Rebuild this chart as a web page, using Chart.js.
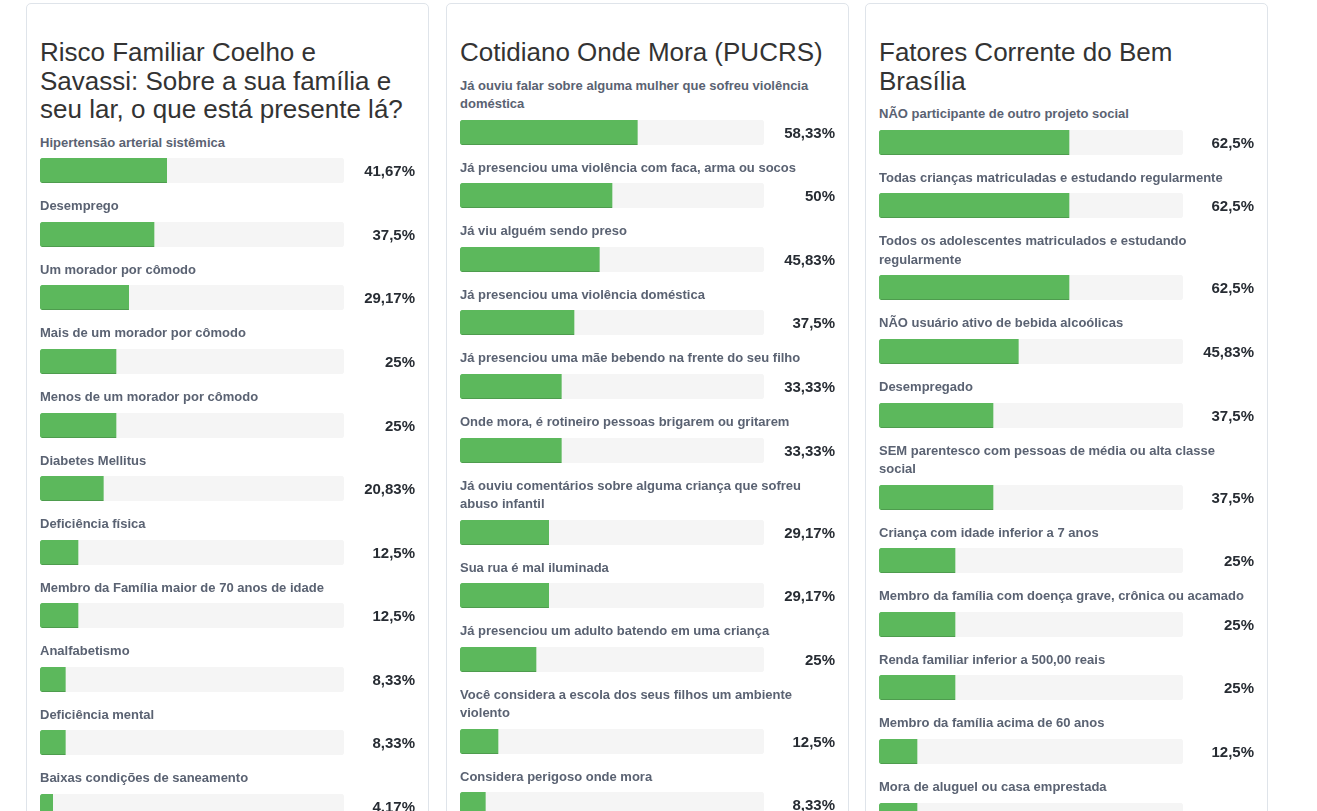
<!DOCTYPE html>
<html lang="pt-BR">
<head>
<meta charset="utf-8">
<title>Fatores de risco</title>
<script src="https://cdn.jsdelivr.net/npm/chart.js@4.4.1/dist/chart.umd.min.js"></script>
<style>
    html, body {
        margin: 0;
        padding: 0;
        background: #fff;
        font-family: Arial, "Liberation Sans", Helvetica, sans-serif;
        overflow: hidden;
    }
    .card {
        position: absolute;
        top: 3px;
        width: 403px;
        height: 1200px;
        box-sizing: border-box;
        border: 1px solid #dfe4ea;
        border-radius: 5px;
        padding: 34px 13px 0 13px;
        background: #fff;
    }
    .card h2 {
        margin: 0 0 10px 0;
        font-size: 26px;
        font-weight: normal;
        line-height: 1.1;
        color: #333;
    }
    .row-label {
        font-size: 13px;
        font-weight: bold;
        line-height: 18.57px;
        color: #5a6272;
        margin-bottom: 6px;
    }
    .row-bar {
        display: flex;
        align-items: center;
        height: 25px;
        margin-bottom: 14px;
    }
    .bar-box {
        width: 304px;
        height: 25px;
        flex: none;
    }
    .pct {
        flex: 1;
        text-align: right;
        font-size: 15px;
        font-weight: bold;
        color: #272c33;
        line-height: 25px;
    }
</style>
</head>
<body>

<div class="card" id="card-risco" style="left:26px">
    <h2>Risco Familiar Coelho e Savassi: Sobre a sua família e seu lar, o que está presente lá?</h2>
    <div class="rows"></div>
</div>
<div class="card" id="card-cotidiano" style="left:446px">
    <h2>Cotidiano Onde Mora (PUCRS)</h2>
    <div class="rows"></div>
</div>
<div class="card" id="card-fatores" style="left:865px">
    <h2>Fatores Corrente do Bem Brasília</h2>
    <div class="rows"></div>
</div>

<script>
const riscoLabels = [
    "Hipertensão arterial sistêmica",
    "Desemprego",
    "Um morador por cômodo",
    "Mais de um morador por cômodo",
    "Menos de um morador por cômodo",
    "Diabetes Mellitus",
    "Deficiência física",
    "Membro da Família maior de 70 anos de idade",
    "Analfabetismo",
    "Deficiência mental",
    "Baixas condições de saneamento"
];
const riscoValues = [41.67, 37.5, 29.17, 25, 25, 20.83, 12.5, 12.5, 8.33, 8.33, 4.17];

const cotidianoLabels = [
    "Já ouviu falar sobre alguma mulher que sofreu violência doméstica",
    "Já presenciou uma violência com faca, arma ou socos",
    "Já viu alguém sendo preso",
    "Já presenciou uma violência doméstica",
    "Já presenciou uma mãe bebendo na frente do seu filho",
    "Onde mora, é rotineiro pessoas brigarem ou gritarem",
    "Já ouviu comentários sobre alguma criança que sofreu abuso infantil",
    "Sua rua é mal iluminada",
    "Já presenciou um adulto batendo em uma criança",
    "Você considera a escola dos seus filhos um ambiente violento",
    "Considera perigoso onde mora"
];
const cotidianoValues = [58.33, 50, 45.83, 37.5, 33.33, 33.33, 29.17, 29.17, 25, 12.5, 8.33];

const fatoresLabels = [
    "NÃO participante de outro projeto social",
    "Todas crianças matriculadas e estudando regularmente",
    "Todos os adolescentes matriculados e estudando regularmente",
    "NÃO usuário ativo de bebida alcoólicas",
    "Desempregado",
    "SEM parentesco com pessoas de média ou alta classe social",
    "Criança com idade inferior a 7 anos",
    "Membro da família com doença grave, crônica ou acamado",
    "Renda familiar inferior a 500,00 reais",
    "Membro da família acima de 60 anos",
    "Mora de aluguel ou casa emprestada"
];
const fatoresValues = [62.5, 62.5, 62.5, 45.83, 37.5, 37.5, 25, 25, 25, 12.5, 12.5];

const scaleMax = 100;

// sombra inferior da barra verde (estilo progress bar)
const barShade = {
    id: 'barShade',
    afterDatasetDraw(chart, args) {
        if (args.index !== 0) return;
        const ctx = chart.ctx;
        args.meta.data.forEach(bar => {
            const p = bar.getProps(['x', 'y', 'base', 'height'], true);
            ctx.save();
            ctx.fillStyle = 'rgba(0,0,0,0.15)';
            ctx.fillRect(p.base + 2, p.y + p.height / 2 - 1, p.x - p.base - 2, 1);
            ctx.restore();
        });
    }
};

function formatPct(v) {
    return String(v).replace('.', ',') + '%';
}

function buildCard(cardId, labels, values) {
    const rows = document.querySelector('#' + cardId + ' .rows');
    labels.forEach((label, i) => {
        const lbl = document.createElement('div');
        lbl.className = 'row-label';
        lbl.textContent = label;
        rows.appendChild(lbl);

        const line = document.createElement('div');
        line.className = 'row-bar';
        const box = document.createElement('div');
        box.className = 'bar-box';
        const canvas = document.createElement('canvas');
        canvas.width = 304;
        canvas.height = 25;
        box.appendChild(canvas);
        const pct = document.createElement('div');
        pct.className = 'pct';
        pct.textContent = formatPct(values[i]);
        line.appendChild(box);
        line.appendChild(pct);
        rows.appendChild(line);

        new Chart(canvas.getContext('2d'), {
            type: 'bar',
            data: {
                labels: [label],
                datasets: [{
                    data: [values[i]],
                    backgroundColor: '#5cb85c',
                    borderRadius: { topLeft: 4, bottomLeft: 4, topRight: 0, bottomRight: 0 },
                    borderSkipped: false,
                    order: 0
                }, {
                    data: [scaleMax],
                    backgroundColor: '#f5f5f5',
                    borderRadius: 4,
                    borderSkipped: false,
                    order: 1
                }]
            },
            options: {
                indexAxis: 'y',
                responsive: false,
                animation: false,
                events: [],
                layout: { padding: 0 },
                datasets: {
                    bar: { grouped: false, barPercentage: 1, categoryPercentage: 1 }
                },
                plugins: {
                    legend: { display: false },
                    tooltip: { enabled: false }
                },
                scales: {
                    x: { display: false, min: 0, max: scaleMax },
                    y: { display: false }
                }
            },
            plugins: [barShade]
        });
    });
}

buildCard('card-risco', riscoLabels, riscoValues);
buildCard('card-cotidiano', cotidianoLabels, cotidianoValues);
buildCard('card-fatores', fatoresLabels, fatoresValues);
</script>
</body>
</html>
